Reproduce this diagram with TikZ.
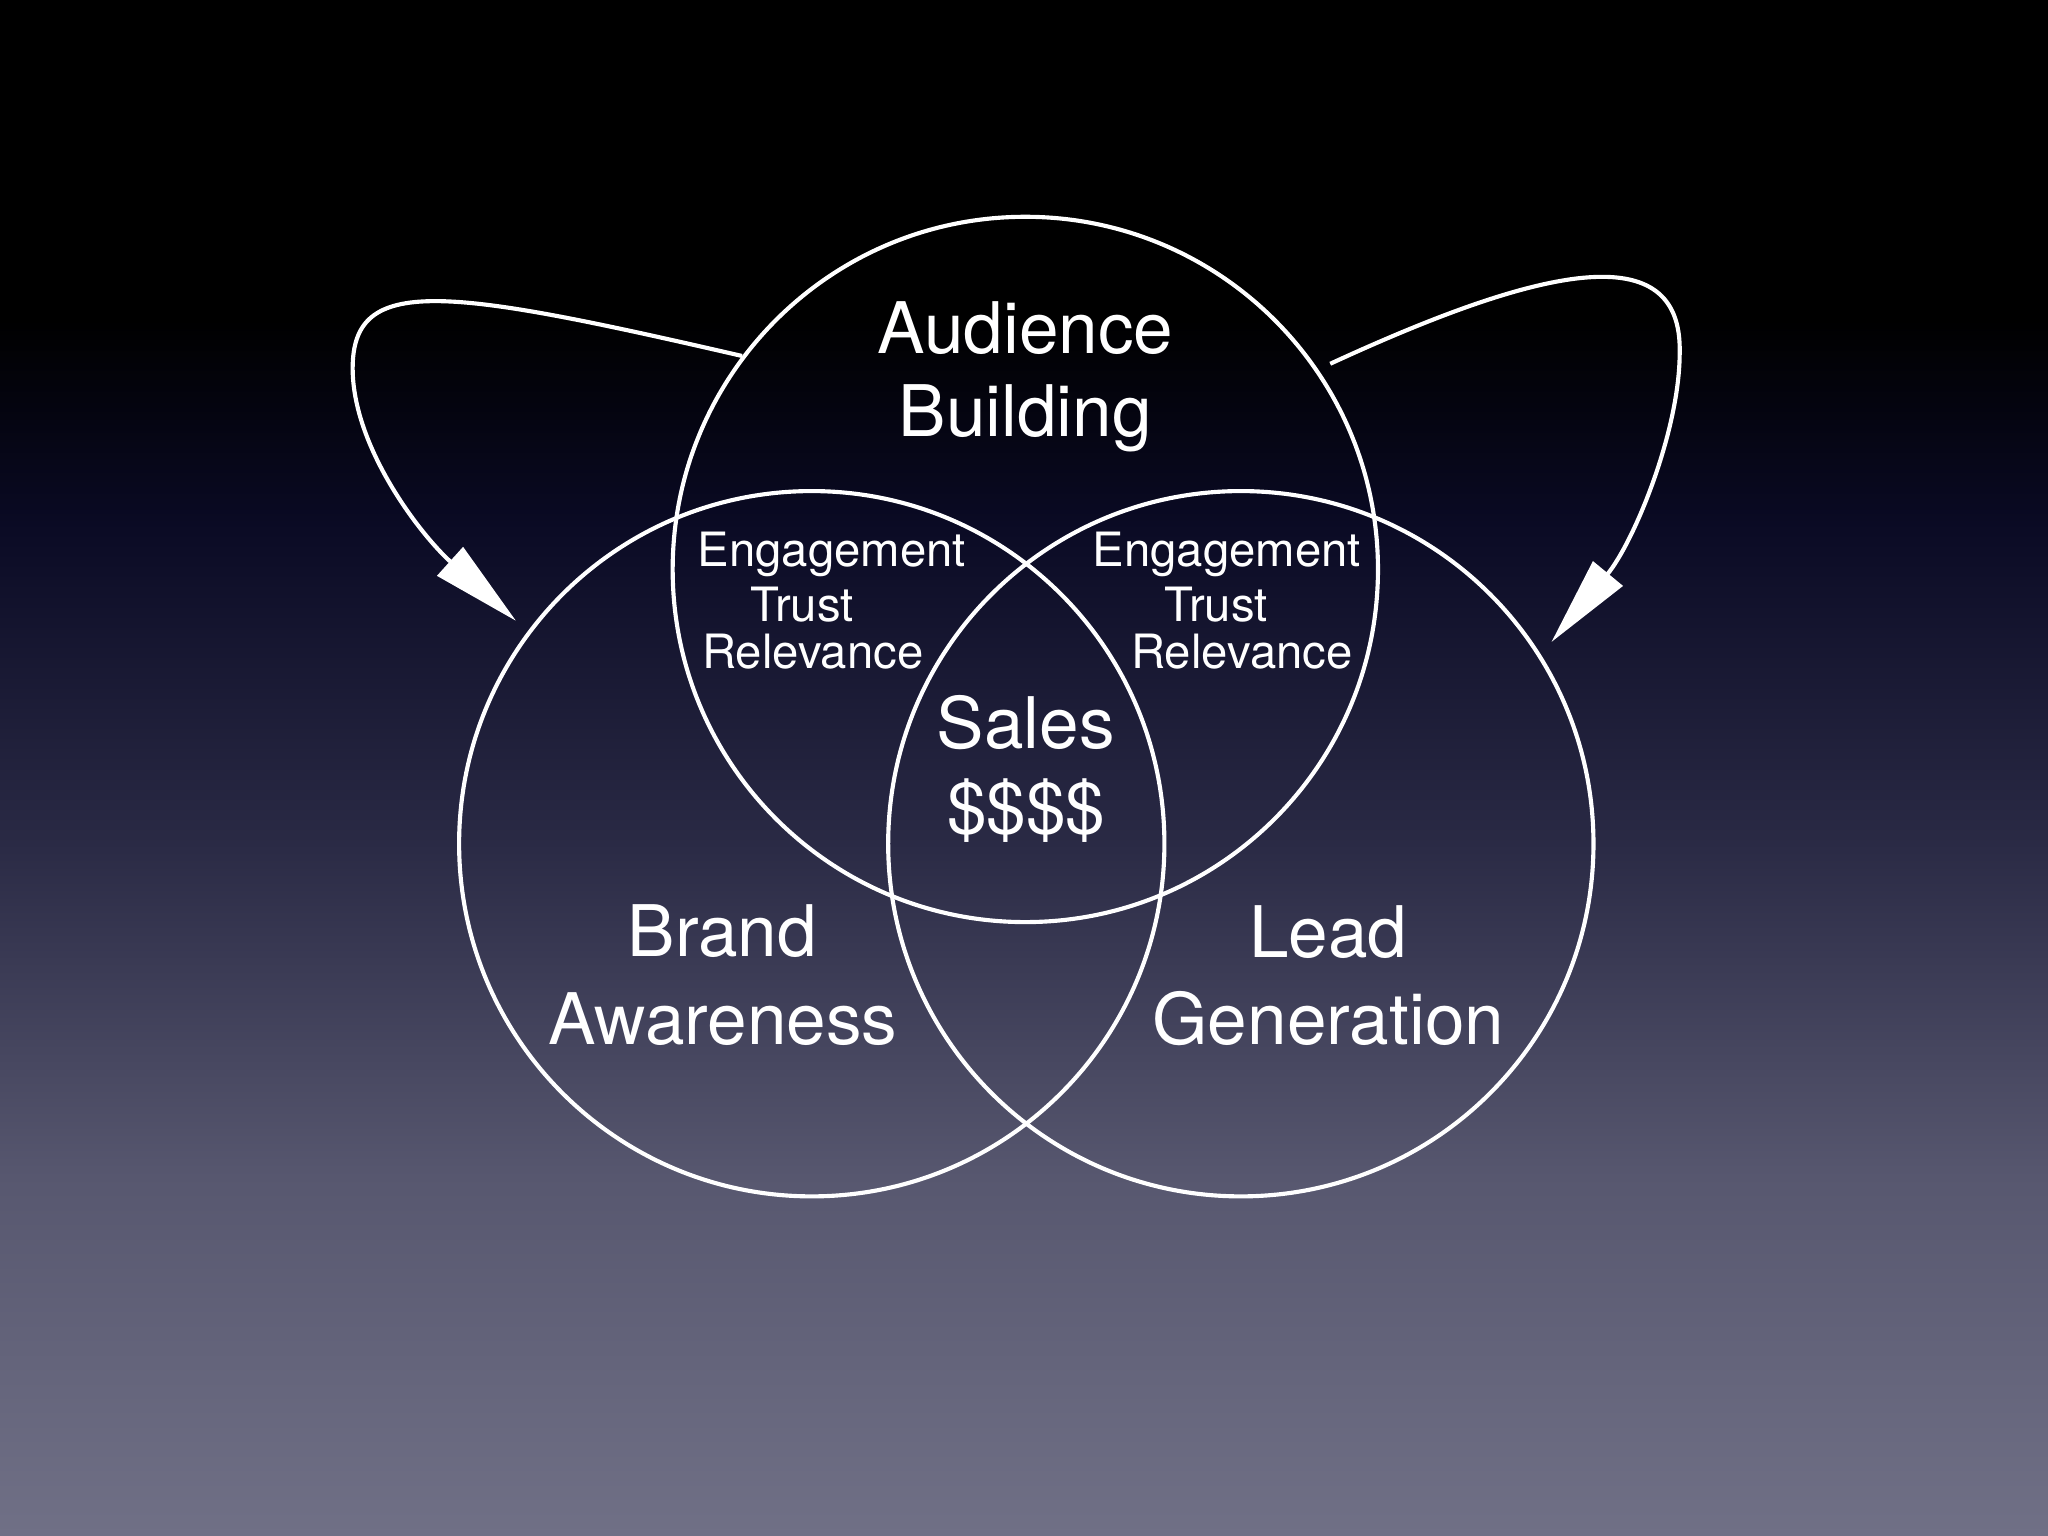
\documentclass[tikz,border=0pt]{standalone}
\usepackage{fontspec}
\setmainfont{TeX Gyre Heros}
\usetikzlibrary{arrows.meta}

\definecolor{bgA}{HTML}{707086}
\definecolor{bgB}{HTML}{57576F}
\definecolor{bgC}{HTML}{2A2A45}
\definecolor{bgD}{HTML}{0A0A24}
\definecolor{bgE}{HTML}{000000}

\begin{document}
\begin{tikzpicture}[ring/.style={circle,draw=white,line width=0.9pt,minimum size=5.4cm,inner sep=0pt},
lbl/.style={text=white,anchor=base,inner sep=0pt,font=\fontsize{15.5}{18.5}\selectfont},
sublbl/.style={text=white,anchor=base,inner sep=0pt,font=\fontsize{10.3}{12}\selectfont},
>={Triangle[length=0.68cm,width=0.29cm]}]
\useasboundingbox (0,0) rectangle (15.68,11.76);
% background
\shade[bottom color=bgA,top color=bgB] (0,0) rectangle (15.68,2.77);
\shade[bottom color=bgB,top color=bgC] (0,2.75) rectangle (15.68,5.31);
\shade[bottom color=bgC,top color=bgD] (0,5.29) rectangle (15.68,7.77);
\shade[bottom color=bgD,top color=bgE] (0,7.75) rectangle (15.68,9.31);
\fill[bgE] (0,9.29) rectangle (15.68,11.76);
% circles
\node[ring] (audience) at (7.85,7.40) {};
\node[ring] (brand) at (6.215,5.30) {};
\node[ring] (lead) at (9.50,5.30) {};
% labels
\node[lbl] (aud1) at (7.85,9.05) {Audience};
\node[lbl] (aud2) at (7.85,8.416) {Building};
\node[lbl] (brand1) at (5.53,4.435) {Brand};
\node[lbl] (brand2) at (5.536,3.766) {Awareness};
\node[lbl] (lead1) at (10.17,4.43) {Lead};
\node[lbl] (lead2) at (10.17,3.766) {Generation};
\node[lbl] (sales1) at (7.854,6.03) {Sales};
\node[lbl] (sales2) at (7.857,5.38) {\$\$\$\$};
\node[sublbl] (engL) at (6.368,7.42) {Engagement};
\node[sublbl] (trustL) at (6.14,7.00) {Trust};
\node[sublbl] (relL) at (6.222,6.643) {Relevance};
\node[sublbl] (engR) at (9.393,7.42) {Engagement};
\node[sublbl] (trustR) at (9.31,7.00) {Trust};
\node[sublbl] (relR) at (9.508,6.643) {Relevance};
% loops
\coordinate (s1) at (audience.143);
\coordinate (l1) at (2.70,8.94);
\coordinate (t1) at ([shift={(143:0.12)}]brand.143);
\coordinate (s2) at ([shift={(34:0.1)}]audience.34);
\coordinate (r2) at (12.86,9.06);
\coordinate (t2) at ([shift={(33:0.12)}]lead.33);
\draw[->,white,line width=0.9pt] (s1) .. controls (3.40,9.56) and (2.70,9.66) .. (l1)
  .. controls (2.70,8.34) and (3.215,7.67) .. (t1);
\draw[->,white,line width=0.9pt] (s2) .. controls (11.80,9.72) and (12.88,9.96) .. (r2)
  .. controls (12.86,8.46) and (12.51,7.61) .. (t2);
\end{tikzpicture}
\end{document}
